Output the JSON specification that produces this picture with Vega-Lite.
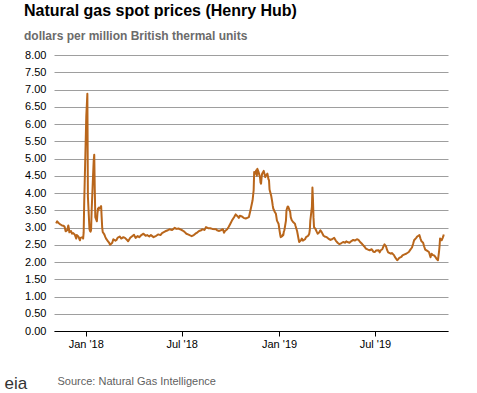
{
  "$schema": "https://vega.github.io/schema/vega-lite/v6.json",
  "width": 394,
  "height": 276,
  "autosize": "none",
  "padding": {"left": 54, "top": 55, "right": 29, "bottom": 62},
  "background": "white",
  "config": {"view": {"stroke": null}, "font": "Liberation Sans"},
  "title": {
    "text": "Natural gas spot prices (Henry Hub)",
    "subtitle": "dollars per million British thermal units",
    "anchor": "start",
    "frame": "group",
    "dx": -30,
    "offset": 7,
    "font": "Liberation Sans",
    "fontSize": 16,
    "fontWeight": "bold",
    "color": "#000000",
    "subtitleFont": "Liberation Sans",
    "subtitleFontSize": 12,
    "subtitleFontWeight": "bold",
    "subtitleColor": "#6b6b6b",
    "subtitlePadding": 12
  },
  "data": {
    "values": [
      {"date": "2017-11-06", "price": 3.12},
      {"date": "2017-11-08", "price": 3.18},
      {"date": "2017-11-10", "price": 3.14},
      {"date": "2017-11-13", "price": 3.10},
      {"date": "2017-11-15", "price": 3.08},
      {"date": "2017-11-17", "price": 3.06},
      {"date": "2017-11-20", "price": 3.05},
      {"date": "2017-11-22", "price": 3.02},
      {"date": "2017-11-24", "price": 2.89},
      {"date": "2017-11-27", "price": 2.92},
      {"date": "2017-11-29", "price": 3.06},
      {"date": "2017-11-30", "price": 2.98},
      {"date": "2017-12-01", "price": 2.86},
      {"date": "2017-12-04", "price": 2.90},
      {"date": "2017-12-06", "price": 2.82},
      {"date": "2017-12-08", "price": 2.84},
      {"date": "2017-12-11", "price": 2.80},
      {"date": "2017-12-13", "price": 2.72},
      {"date": "2017-12-14", "price": 2.68},
      {"date": "2017-12-15", "price": 2.78},
      {"date": "2017-12-18", "price": 2.74},
      {"date": "2017-12-20", "price": 2.66},
      {"date": "2017-12-21", "price": 2.63},
      {"date": "2017-12-22", "price": 2.70},
      {"date": "2017-12-26", "price": 2.72},
      {"date": "2017-12-27", "price": 2.68},
      {"date": "2017-12-28", "price": 2.85},
      {"date": "2017-12-29", "price": 3.69},
      {"date": "2018-01-02", "price": 6.24},
      {"date": "2018-01-03", "price": 6.55},
      {"date": "2018-01-04", "price": 6.88},
      {"date": "2018-01-05", "price": 3.90},
      {"date": "2018-01-08", "price": 2.95},
      {"date": "2018-01-09", "price": 2.90},
      {"date": "2018-01-10", "price": 2.88},
      {"date": "2018-01-11", "price": 2.92},
      {"date": "2018-01-12", "price": 3.45},
      {"date": "2018-01-15", "price": 4.60},
      {"date": "2018-01-16", "price": 4.95},
      {"date": "2018-01-17", "price": 5.11},
      {"date": "2018-01-18", "price": 4.10},
      {"date": "2018-01-19", "price": 3.30},
      {"date": "2018-01-22", "price": 3.18},
      {"date": "2018-01-23", "price": 3.40},
      {"date": "2018-01-24", "price": 3.55},
      {"date": "2018-01-25", "price": 3.50},
      {"date": "2018-01-26", "price": 3.58},
      {"date": "2018-01-29", "price": 3.56},
      {"date": "2018-01-30", "price": 3.62},
      {"date": "2018-01-31", "price": 3.30},
      {"date": "2018-02-01", "price": 3.00},
      {"date": "2018-02-02", "price": 2.87},
      {"date": "2018-02-05", "price": 2.80},
      {"date": "2018-02-07", "price": 2.72},
      {"date": "2018-02-09", "price": 2.66},
      {"date": "2018-02-12", "price": 2.60},
      {"date": "2018-02-14", "price": 2.56},
      {"date": "2018-02-16", "price": 2.50},
      {"date": "2018-02-20", "price": 2.56},
      {"date": "2018-02-22", "price": 2.66},
      {"date": "2018-02-26", "price": 2.62},
      {"date": "2018-02-28", "price": 2.64},
      {"date": "2018-03-02", "price": 2.70},
      {"date": "2018-03-06", "price": 2.74},
      {"date": "2018-03-09", "price": 2.68},
      {"date": "2018-03-13", "price": 2.72},
      {"date": "2018-03-16", "price": 2.70},
      {"date": "2018-03-20", "price": 2.64},
      {"date": "2018-03-22", "price": 2.60},
      {"date": "2018-03-26", "price": 2.70},
      {"date": "2018-03-29", "price": 2.74},
      {"date": "2018-04-02", "price": 2.79},
      {"date": "2018-04-05", "price": 2.70},
      {"date": "2018-04-09", "price": 2.75},
      {"date": "2018-04-12", "price": 2.72},
      {"date": "2018-04-16", "price": 2.78},
      {"date": "2018-04-20", "price": 2.82},
      {"date": "2018-04-24", "price": 2.76},
      {"date": "2018-04-27", "price": 2.78},
      {"date": "2018-05-01", "price": 2.74},
      {"date": "2018-05-04", "price": 2.78},
      {"date": "2018-05-09", "price": 2.72},
      {"date": "2018-05-14", "price": 2.76},
      {"date": "2018-05-18", "price": 2.80},
      {"date": "2018-05-22", "price": 2.78},
      {"date": "2018-05-25", "price": 2.84},
      {"date": "2018-05-31", "price": 2.89},
      {"date": "2018-06-05", "price": 2.92},
      {"date": "2018-06-08", "price": 2.95},
      {"date": "2018-06-13", "price": 2.93},
      {"date": "2018-06-18", "price": 2.99},
      {"date": "2018-06-21", "price": 2.96},
      {"date": "2018-06-25", "price": 2.97},
      {"date": "2018-06-28", "price": 2.95},
      {"date": "2018-07-02", "price": 2.92},
      {"date": "2018-07-06", "price": 2.88},
      {"date": "2018-07-10", "price": 2.82},
      {"date": "2018-07-13", "price": 2.80},
      {"date": "2018-07-17", "price": 2.77},
      {"date": "2018-07-20", "price": 2.75},
      {"date": "2018-07-24", "price": 2.78},
      {"date": "2018-07-27", "price": 2.82},
      {"date": "2018-07-31", "price": 2.86},
      {"date": "2018-08-03", "price": 2.90},
      {"date": "2018-08-07", "price": 2.92},
      {"date": "2018-08-09", "price": 2.95},
      {"date": "2018-08-13", "price": 2.93},
      {"date": "2018-08-16", "price": 3.01},
      {"date": "2018-08-20", "price": 2.98},
      {"date": "2018-08-24", "price": 2.98},
      {"date": "2018-08-28", "price": 2.96},
      {"date": "2018-09-04", "price": 2.95},
      {"date": "2018-09-06", "price": 2.92},
      {"date": "2018-09-10", "price": 2.90},
      {"date": "2018-09-13", "price": 2.92},
      {"date": "2018-09-17", "price": 2.95},
      {"date": "2018-09-19", "price": 2.85},
      {"date": "2018-09-21", "price": 2.90},
      {"date": "2018-09-25", "price": 2.95},
      {"date": "2018-09-28", "price": 3.02},
      {"date": "2018-10-01", "price": 3.11},
      {"date": "2018-10-04", "price": 3.20},
      {"date": "2018-10-08", "price": 3.30},
      {"date": "2018-10-11", "price": 3.38},
      {"date": "2018-10-15", "price": 3.32},
      {"date": "2018-10-17", "price": 3.28},
      {"date": "2018-10-19", "price": 3.34},
      {"date": "2018-10-23", "price": 3.32},
      {"date": "2018-10-26", "price": 3.28},
      {"date": "2018-10-30", "price": 3.26},
      {"date": "2018-11-02", "price": 3.28},
      {"date": "2018-11-05", "price": 3.30},
      {"date": "2018-11-08", "price": 3.50},
      {"date": "2018-11-12", "price": 3.79},
      {"date": "2018-11-14", "price": 4.08},
      {"date": "2018-11-15", "price": 4.61},
      {"date": "2018-11-16", "price": 4.55},
      {"date": "2018-11-19", "price": 4.66},
      {"date": "2018-11-20", "price": 4.50},
      {"date": "2018-11-21", "price": 4.70},
      {"date": "2018-11-23", "price": 4.62},
      {"date": "2018-11-26", "price": 4.46},
      {"date": "2018-11-27", "price": 4.30},
      {"date": "2018-11-28", "price": 4.27},
      {"date": "2018-11-29", "price": 4.45},
      {"date": "2018-11-30", "price": 4.56},
      {"date": "2018-12-03", "price": 4.64},
      {"date": "2018-12-04", "price": 4.58},
      {"date": "2018-12-06", "price": 4.46},
      {"date": "2018-12-07", "price": 4.50},
      {"date": "2018-12-10", "price": 4.56},
      {"date": "2018-12-12", "price": 4.40},
      {"date": "2018-12-13", "price": 4.37},
      {"date": "2018-12-14", "price": 4.10},
      {"date": "2018-12-17", "price": 3.93},
      {"date": "2018-12-19", "price": 3.75},
      {"date": "2018-12-20", "price": 3.64},
      {"date": "2018-12-21", "price": 3.55},
      {"date": "2018-12-24", "price": 3.45},
      {"date": "2018-12-26", "price": 3.40},
      {"date": "2018-12-27", "price": 3.30},
      {"date": "2018-12-28", "price": 3.20},
      {"date": "2018-12-31", "price": 3.11},
      {"date": "2019-01-02", "price": 2.90},
      {"date": "2019-01-03", "price": 2.80},
      {"date": "2019-01-04", "price": 2.72},
      {"date": "2019-01-07", "price": 2.75},
      {"date": "2019-01-08", "price": 2.80},
      {"date": "2019-01-09", "price": 2.78},
      {"date": "2019-01-10", "price": 2.88},
      {"date": "2019-01-11", "price": 2.92},
      {"date": "2019-01-14", "price": 3.20},
      {"date": "2019-01-15", "price": 3.50},
      {"date": "2019-01-16", "price": 3.55},
      {"date": "2019-01-17", "price": 3.60},
      {"date": "2019-01-18", "price": 3.61},
      {"date": "2019-01-22", "price": 3.45},
      {"date": "2019-01-23", "price": 3.30},
      {"date": "2019-01-25", "price": 3.21},
      {"date": "2019-01-28", "price": 3.15},
      {"date": "2019-01-31", "price": 3.11},
      {"date": "2019-02-01", "price": 3.05},
      {"date": "2019-02-04", "price": 2.90},
      {"date": "2019-02-05", "price": 2.82},
      {"date": "2019-02-07", "price": 2.65},
      {"date": "2019-02-08", "price": 2.58},
      {"date": "2019-02-11", "price": 2.62},
      {"date": "2019-02-13", "price": 2.68},
      {"date": "2019-02-15", "price": 2.62},
      {"date": "2019-02-19", "price": 2.66},
      {"date": "2019-02-21", "price": 2.72},
      {"date": "2019-02-25", "price": 2.76},
      {"date": "2019-02-27", "price": 2.82},
      {"date": "2019-02-28", "price": 2.92},
      {"date": "2019-03-01", "price": 3.20},
      {"date": "2019-03-04", "price": 3.60},
      {"date": "2019-03-05", "price": 4.16},
      {"date": "2019-03-06", "price": 3.80},
      {"date": "2019-03-07", "price": 3.30},
      {"date": "2019-03-08", "price": 3.01},
      {"date": "2019-03-11", "price": 2.95},
      {"date": "2019-03-13", "price": 2.88},
      {"date": "2019-03-15", "price": 2.82},
      {"date": "2019-03-18", "price": 2.86},
      {"date": "2019-03-20", "price": 2.92},
      {"date": "2019-03-22", "price": 2.88},
      {"date": "2019-03-26", "price": 2.76},
      {"date": "2019-03-28", "price": 2.74},
      {"date": "2019-04-01", "price": 2.72},
      {"date": "2019-04-04", "price": 2.68},
      {"date": "2019-04-08", "price": 2.64},
      {"date": "2019-04-11", "price": 2.66},
      {"date": "2019-04-15", "price": 2.70},
      {"date": "2019-04-18", "price": 2.62},
      {"date": "2019-04-22", "price": 2.55},
      {"date": "2019-04-25", "price": 2.52},
      {"date": "2019-04-29", "price": 2.55},
      {"date": "2019-05-02", "price": 2.58},
      {"date": "2019-05-06", "price": 2.56},
      {"date": "2019-05-08", "price": 2.60},
      {"date": "2019-05-10", "price": 2.58},
      {"date": "2019-05-14", "price": 2.56},
      {"date": "2019-05-17", "price": 2.60},
      {"date": "2019-05-21", "price": 2.64},
      {"date": "2019-05-24", "price": 2.62},
      {"date": "2019-05-28", "price": 2.66},
      {"date": "2019-05-31", "price": 2.64},
      {"date": "2019-06-03", "price": 2.58},
      {"date": "2019-06-05", "price": 2.55},
      {"date": "2019-06-07", "price": 2.52},
      {"date": "2019-06-11", "price": 2.45},
      {"date": "2019-06-14", "price": 2.39},
      {"date": "2019-06-18", "price": 2.36},
      {"date": "2019-06-21", "price": 2.34},
      {"date": "2019-06-25", "price": 2.37},
      {"date": "2019-06-28", "price": 2.30},
      {"date": "2019-07-01", "price": 2.29},
      {"date": "2019-07-03", "price": 2.33},
      {"date": "2019-07-08", "price": 2.34},
      {"date": "2019-07-10", "price": 2.28},
      {"date": "2019-07-12", "price": 2.34},
      {"date": "2019-07-15", "price": 2.37},
      {"date": "2019-07-17", "price": 2.45},
      {"date": "2019-07-19", "price": 2.51},
      {"date": "2019-07-22", "price": 2.45},
      {"date": "2019-07-24", "price": 2.35},
      {"date": "2019-07-26", "price": 2.28},
      {"date": "2019-07-31", "price": 2.24},
      {"date": "2019-08-02", "price": 2.26},
      {"date": "2019-08-06", "price": 2.20},
      {"date": "2019-08-08", "price": 2.14},
      {"date": "2019-08-12", "price": 2.05},
      {"date": "2019-08-14", "price": 2.08},
      {"date": "2019-08-16", "price": 2.12},
      {"date": "2019-08-20", "price": 2.15},
      {"date": "2019-08-22", "price": 2.19},
      {"date": "2019-08-26", "price": 2.22},
      {"date": "2019-08-29", "price": 2.24},
      {"date": "2019-09-03", "price": 2.29},
      {"date": "2019-09-06", "price": 2.36},
      {"date": "2019-09-09", "price": 2.42},
      {"date": "2019-09-11", "price": 2.52},
      {"date": "2019-09-13", "price": 2.63},
      {"date": "2019-09-17", "price": 2.70},
      {"date": "2019-09-19", "price": 2.74},
      {"date": "2019-09-23", "price": 2.78},
      {"date": "2019-09-25", "price": 2.68},
      {"date": "2019-09-27", "price": 2.60},
      {"date": "2019-09-30", "price": 2.56},
      {"date": "2019-10-02", "price": 2.45},
      {"date": "2019-10-04", "price": 2.36},
      {"date": "2019-10-08", "price": 2.32},
      {"date": "2019-10-11", "price": 2.29},
      {"date": "2019-10-14", "price": 2.14},
      {"date": "2019-10-16", "price": 2.24},
      {"date": "2019-10-18", "price": 2.20},
      {"date": "2019-10-21", "price": 2.19},
      {"date": "2019-10-23", "price": 2.15},
      {"date": "2019-10-25", "price": 2.10},
      {"date": "2019-10-28", "price": 2.05},
      {"date": "2019-10-30", "price": 2.29},
      {"date": "2019-10-31", "price": 2.45},
      {"date": "2019-11-01", "price": 2.68},
      {"date": "2019-11-04", "price": 2.63},
      {"date": "2019-11-06", "price": 2.70},
      {"date": "2019-11-07", "price": 2.74},
      {"date": "2019-11-08", "price": 2.80}
    ]
  },
  "mark": {"type": "line", "color": "#b9661b", "strokeWidth": 2, "strokeJoin": "round", "interpolate": "linear"},
  "encoding": {
    "x": {
      "field": "date",
      "type": "temporal",
      "scale": {"type": "utc", "domain": [{"year": 2017, "month": 11, "date": 2, "utc": true}, {"year": 2019, "month": 11, "date": 16, "utc": true}]},
      "axis": {
        "values": [
          {"year": 2018, "month": 1, "date": 1, "utc": true},
          {"year": 2018, "month": 7, "date": 1, "utc": true},
          {"year": 2019, "month": 1, "date": 1, "utc": true},
          {"year": 2019, "month": 7, "date": 1, "utc": true}
        ],
        "labelExpr": "utcFormat(datum.value, '%b \\'%y')",
        "grid": false,
        "domainColor": "#000000",
        "domainWidth": 1,
        "tickColor": "#000000",
        "tickSize": 5,
        "labelPadding": 2,
        "labelFont": "Liberation Sans",
        "labelFontSize": 11,
        "labelColor": "#000000",
        "labelFlush": false,
        "title": "Source: Natural Gas Intelligence",
        "titleFont": "Liberation Sans",
        "titleFontSize": 11,
        "titleFontWeight": "normal",
        "titleColor": "#5f5f5f",
        "titleAnchor": "start",
        "titleAlign": "left",
        "titleBaseline": "middle",
        "titleX": 3,
        "titleY": 50
      }
    },
    "y": {
      "field": "price",
      "type": "quantitative",
      "scale": {"domain": [0, 8], "nice": false},
      "axis": {
        "values": [0, 0.5, 1, 1.5, 2, 2.5, 3, 3.5, 4, 4.5, 5, 5.5, 6, 6.5, 7, 7.5, 8],
        "format": ".2f",
        "domain": false,
        "ticks": false,
        "grid": true,
        "gridColor": "#9e9e9e",
        "gridWidth": 1,
        "labelPadding": 8,
        "labelFont": "Liberation Sans",
        "labelFontSize": 11,
        "labelColor": "#000000",
        "title": "eia",
        "titleAngle": 0,
        "titleFont": "Liberation Sans",
        "titleFontSize": 17,
        "titleFontWeight": "normal",
        "titleColor": "#333333",
        "titleAlign": "left",
        "titleBaseline": "alphabetic",
        "titleX": -50,
        "titleY": 333
      }
    }
  }
}
